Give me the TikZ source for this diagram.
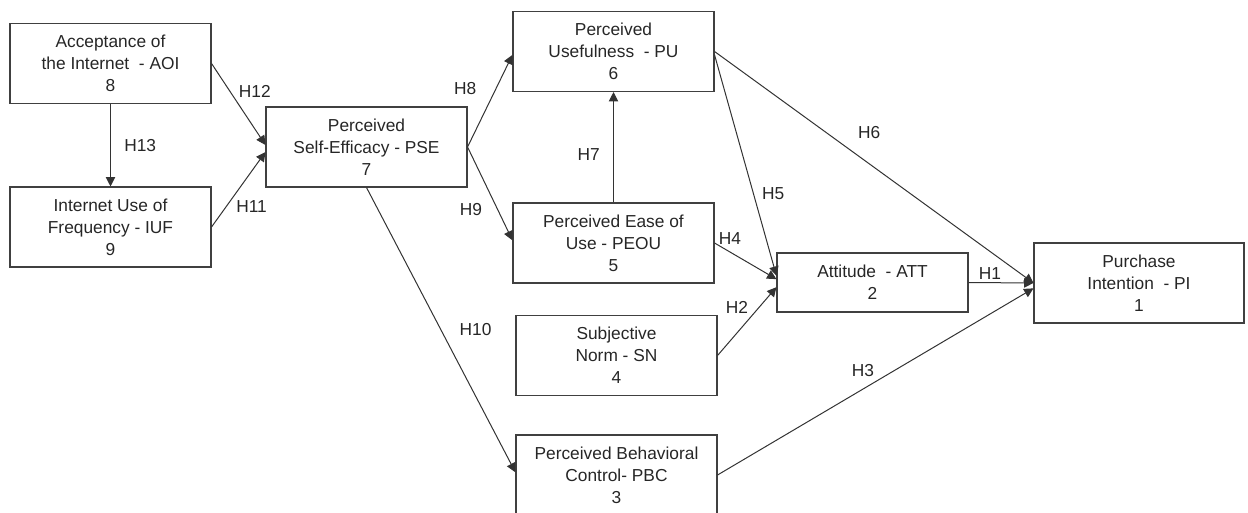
\documentclass[tikz,border=0pt]{standalone}
\usepackage{fontspec}
\setmainfont{Liberation Sans}
\usetikzlibrary{arrows.meta, positioning}

\begin{document}
\begin{tikzpicture}[
		x=0.75pt, y=-0.75pt,
		>={Triangle[length=7pt, width=7pt]},
		construct/.style={rectangle, draw=black!75, line width=0.8pt, minimum width=150.75pt, minimum height=60pt, inner sep=0pt, align=center, font=\fontsize{13}{16.5}\selectfont, text=black!85},
		path_line/.style={->, draw=black!80, line width=0.75pt},
		hyp/.style={font=\fontsize{13}{16}\selectfont, text=black!85, inner sep=2pt}
		]
		
		\useasboundingbox (0,0) rectangle (1248,513);
		
		% Antecedents (left column)
		\node[construct] (aoi) at (110.5, 63.5) {Acceptance of\\the Internet\ \ - AOI\\8};
		\node[construct] (iuf) at (110.5, 227) {Internet Use of\\Frequency - IUF\\9};
		\node[construct] (pse) at (366.5, 147) {Perceived\\Self-Efficacy - PSE\\7};
		
		% Middle column
		\node[construct] (pu) at (613.5, 51.5) {Perceived\\Usefulness\ \ - PU\\6};
		\node[construct] (peou) at (613.5, 243) {Perceived Ease of\\Use - PEOU\\5};
		\node[construct] (sn) at (616.5, 355.5) {Subjective\\Norm - SN\\4};
		\node[construct] (pbc) at (616.5, 475) {Perceived Behavioral\\Control- PBC\\3};
		
		% Attitude and outcome
		\node[construct, minimum width=143.25pt, minimum height=44.25pt] (att) at (872.5, 282.5) {Attitude\ \ - ATT\\2};
		\node[construct, minimum width=157.5pt] (pi) at (1139, 283) {Purchase\\Intention\ \ - PI\\1};
		
		% Internet acceptance and use
		\draw[path_line] (aoi.south) -- node[right=8pt, hyp] {H13} (iuf.north);
		\draw[path_line] (aoi.east) -- node[pos=0.45, above right, hyp] {H12} ([yshift=1.5pt]pse.west);
		\draw[path_line] (iuf.east) -- node[pos=0.4, below right, hyp] {H11} ([yshift=-3.75pt]pse.west);
		
		% Self-efficacy paths
		\draw[path_line] (pse.east) -- node[pos=0.5, above left=2pt and 8pt, hyp] {H8} ([yshift=-2.5pt]pu.west);
		\draw[path_line] (pse.east) -- node[pos=0.57, below left=0pt and 6pt, hyp] {H9} ([yshift=2pt]peou.west);
		\draw[path_line] (pse.south) -- node[pos=0.55, above right=4pt and 6pt, hyp] {H10} ([yshift=2pt]pbc.west);
		
		% TAM paths
		\draw[path_line] (peou.north) -- node[pos=0.43, left=8pt, hyp] {H7} (pu.south);
		\draw[path_line] ([yshift=-2.5pt]pu.east) -- node[pos=0.63, right=4pt, hyp] {H5} ([yshift=5pt]att.west);
		\draw[path_line] (peou.east) -- node[pos=0.25, above=3pt, hyp] {H4} ([yshift=2.5pt]att.west);
		\draw[path_line] (sn.east) -- node[pos=0.57, above left, hyp] {H2} ([yshift=-3.5pt]att.west);
		
		% Paths to purchase intention
		\draw[path_line] (pu.east) -- node[pos=0.44, above right=9pt and 0pt, hyp] {H6} (pi.west);
		\draw[path_line] (att.east) -- node[pos=0.33, above, hyp] {H1} (pi.west);
		\draw[path_line] (pbc.east) -- node[pos=0.46, above=7pt, hyp] {H3} ([yshift=-4pt]pi.west);
		
	\end{tikzpicture}
\end{document}
